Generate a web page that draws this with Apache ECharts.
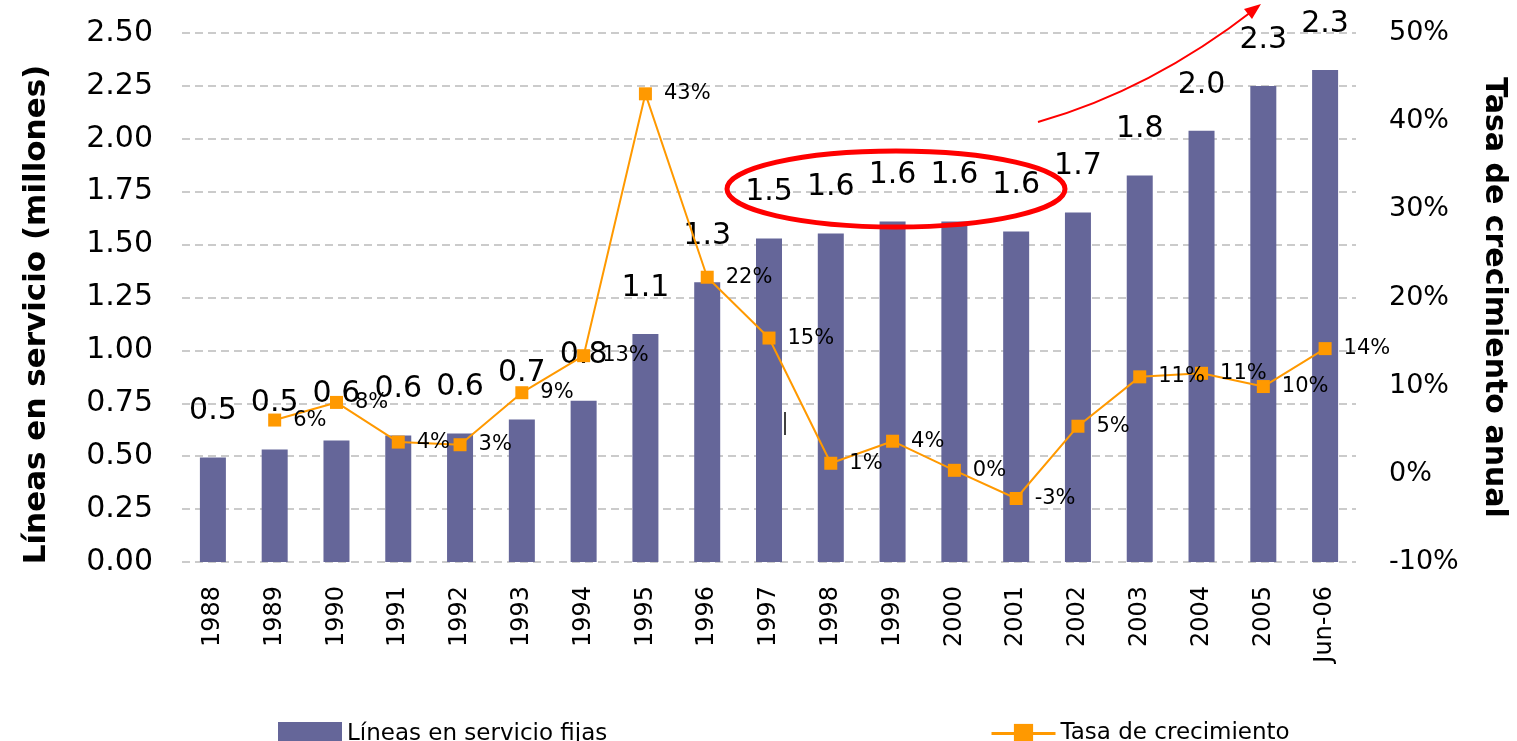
<!DOCTYPE html>
<html>
<head>
<meta charset="utf-8">
<script src="https://cdn.jsdelivr.net/npm/echarts@6/dist/echarts.min.js"></script>
<style>
html,body{margin:0;padding:0;background:#fff;}
#c{width:1517px;height:741px;}
</style>
</head>
<body>
<div id="c"></div>
<script>
// ---- data ----
const categories = ['1988','1989','1990','1991','1992','1993','1994','1995','1996','1997','1998','1999','2000','2001','2002','2003','2004','2005','Jun-06'];
const lineasFijas = [0.494,0.532,0.574,0.598,0.607,0.673,0.762,1.078,1.322,1.529,1.552,1.609,1.609,1.562,1.652,1.826,2.038,2.25,2.325];
const tasaCrecimiento = [null,6.1,8.1,3.6,3.3,9.2,13.4,43.1,22.3,15.4,1.2,3.7,0.4,-2.8,5.4,11.0,11.4,9.9,14.2];
const leftTicks = {min:0, max:2.5, interval:0.25};
const rightTicks = {min:-10, max:50, interval:10};
const seriesNames = ['Líneas en servicio fijas','Tasa de crecimiento'];
const axisNames = ['Líneas en servicio (millones)','Tasa de crecimiento anual'];

const chart = echarts.init(document.getElementById('c'), null, {renderer:'canvas'});
const FONT = 'DejaVu Sans';
chart.setOption({
  animation:false,
  textStyle:{fontFamily:FONT, color:'#000'},
  grid:{left:182, right:160, top:33, bottom:179},
  legend:[
    {data:[{name:seriesNames[0], icon:'rect'}], left:273, top:717, itemWidth:64, itemHeight:24, itemGap:5,
     textStyle:{fontSize:23, color:'#000', fontFamily:FONT}},
    {data:[seriesNames[1]], left:985, top:717, itemWidth:64, itemHeight:24, itemGap:5,
     lineStyle:{width:3},
     textStyle:{fontSize:23, color:'#000', fontFamily:FONT}}
  ],
  xAxis:{
    type:'category', data:categories,
    axisLine:{show:false}, axisTick:{show:false},
    axisLabel:{rotate:90, fontSize:24, color:'#000', margin:24, interval:0}
  },
  yAxis:[
    {type:'value', min:leftTicks.min, max:leftTicks.max, interval:leftTicks.interval,
     name:axisNames[0], nameLocation:'middle', nameGap:130,
     nameTextStyle:{fontSize:31, fontWeight:'bold', color:'#000', padding:[0,34,0,0]},
     axisLine:{show:false}, axisTick:{show:false},
     axisLabel:{fontSize:30, color:'#000', margin:29, formatter:v=>v.toFixed(2)},
     splitLine:{show:true, lineStyle:{color:'#bbbbbb', width:1.5, type:[8,5]}}
    },
    {type:'value', min:rightTicks.min, max:rightTicks.max, interval:rightTicks.interval,
     name:axisNames[1], nameLocation:'middle', nameGap:123, nameRotate:-90,
     nameTextStyle:{fontSize:30, fontWeight:'bold', color:'#000'},
     axisLine:{show:false}, axisTick:{show:false},
     axisLabel:{fontSize:27, color:'#000', margin:33, formatter:v=>v+'%'},
     splitLine:{show:false}
    }
  ],
  series:[
    {name:seriesNames[0], type:'bar', data:lineasFijas, barWidth:26,
     itemStyle:{color:'#656699'},
     label:{show:true, position:'top', distance:31, fontSize:30, color:'#000',
            formatter:p=>p.value.toFixed(1)}
    },
    {name:seriesNames[1], type:'line', yAxisIndex:1, data:tasaCrecimiento,
     symbol:'rect', symbolSize:13, z:5,
     lineStyle:{color:'#FF9900', width:2},
     itemStyle:{color:'#FF9900'},
     label:{show:true, position:'right', distance:12, fontSize:21, color:'#000',
            formatter:p=>Math.round(p.value)+'%'}
    }
  ],
  graphic:[
    {type:'ellipse', shape:{cx:896, cy:189, rx:169, ry:38}, z:100,
     style:{fill:'none', stroke:'#FF0000', lineWidth:5}},
    {type:'bezierCurve', shape:{x1:1038, y1:122, x2:1255, y2:9, cpx1:1151, cpy1:90}, z:100,
     style:{fill:'none', stroke:'#FF0000', lineWidth:2}},
    {type:'polygon', shape:{points:[[1261,4],[1252,19],[1244,9]]}, z:100,
     style:{fill:'#FF0000'}},
    {type:'line', shape:{x1:785, y1:412, x2:785, y2:435}, z:100,
     style:{stroke:'#000', lineWidth:1.5}}
  ]
});
</script>
</body>
</html>
